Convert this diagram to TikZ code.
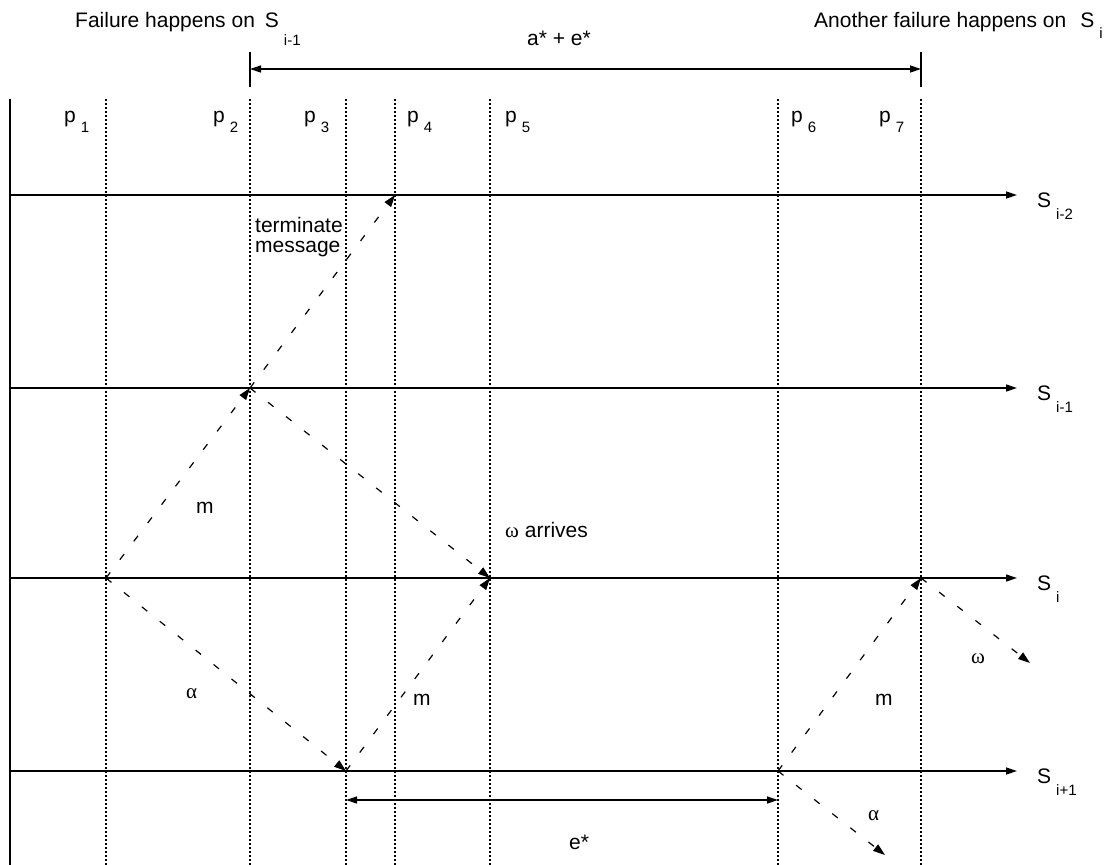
\documentclass[tikz,border=0pt]{standalone}
\usepackage{fontspec}
\setmainfont{Liberation Sans}
\newfontfamily\grk{Liberation Serif}
\usetikzlibrary{arrows.meta}
% name with a lowered index, set the way the figure does it
\newcommand{\idx}[3][12pt]{#2\hspace{5pt}\raisebox{-#1}{\fontsize{15}{15}\selectfont #3}}

\begin{document}
\begin{tikzpicture}[x=1pt,y=-1pt,
    font=\fontsize{21}{20.5}\selectfont,
    every node/.style={inner sep=0pt, anchor=base west},
    bnd/.style={line width=1.2pt, dash pattern=on 2pt off 2pt},
    srv/.style={line width=1.3pt, -{Triangle[length=11pt,width=7pt]}},
    msg/.style={line width=1.2pt, dash pattern=on 7pt off 16pt, -{Triangle[length=12pt,width=8pt]}},
    span/.style={line width=1.3pt, {Triangle[length=11pt,width=7pt]}-{Triangle[length=11pt,width=7pt]}}]
  \useasboundingbox (0,0) rectangle (1112,865);
  % start of the time line
  \draw[line width=1.6pt] (10,99) -- (10,865);
  % period boundaries
  \foreach \x in {106,250,346,395,490,778,921}
    \draw[bnd] (\x,99) -- (\x,865);
  \foreach \x/\k in {64/1,213/2,304/3,407/4,505/5,791/6,879/7}
    \node (p\k) at (\x,122) {\idx[10pt]{p}{\k}};
  % servers
  \foreach \y/\s/\k in {195/i-2/a,388/i-1/b,578/i/c,771/i+1/d}{
    \draw[srv] (10,\y) -- (1017,\y);
    \node (srv\k) at (1037,\y+12) {\idx{S}{\s}};
  }
  % failures and the time between them
  \node (fail1) at (75,27) {Failure happens on\hspace{10pt}\idx[18pt]{S}{i-1}};
  \node (fail2) at (814,27) {Another failure happens on\hspace{14pt}\idx[11pt]{S}{i}};
  \draw[line width=1.3pt] (250,52) -- (250,87);
  \draw[line width=1.3pt] (921,52) -- (921,87);
  \coordinate (f1) at (250,69);
  \coordinate (f2) at (921,69);
  \draw[span] (f1) -- (f2);
  \node (ae) at (527,45) {a* + e*};
  % events
  \coordinate (e1) at (106,578);
  \coordinate (e2) at (250,388);
  \coordinate (e3) at (395,195);
  \coordinate (e4) at (490,578);
  \coordinate (e5) at (346,771);
  \coordinate (e6) at (778,771);
  \coordinate (e7) at (921,578);
  \coordinate (w7) at (1030,663);
  \coordinate (a6) at (885,855);
  % messages
  \draw[msg] (e1) -- (e2);
  \draw[msg] (e2) -- (e3);
  \draw[msg] (e2) -- (e4);
  \draw[msg] (e1) -- (e5);
  \draw[msg] (e5) -- (e4);
  \draw[msg] (e6) -- (e7);
  \draw[msg] (e7) -- (w7);
  \draw[msg] (e6) -- (a6);
  \node[anchor=north west, align=left] (term) at (255,217) {terminate\\message};
  \node (m1) at (196,513) {m};
  \node (warr) at (505,537) {{\grk ω} arrives};
  \node (al1) at (186,698) {\grk α};
  \node (m2) at (413,705) {m};
  \node (m3) at (875,705) {m};
  \node (om) at (971,663) {\grk ω};
  \node (al2) at (868,820) {\grk α};
  % e* between the two messages on S i+1
  \coordinate (d1) at (346,800);
  \coordinate (d2) at (778,800);
  \draw[span] (d1) -- (d2);
  \node (es) at (569,849) {e*};
\end{tikzpicture}
\end{document}
